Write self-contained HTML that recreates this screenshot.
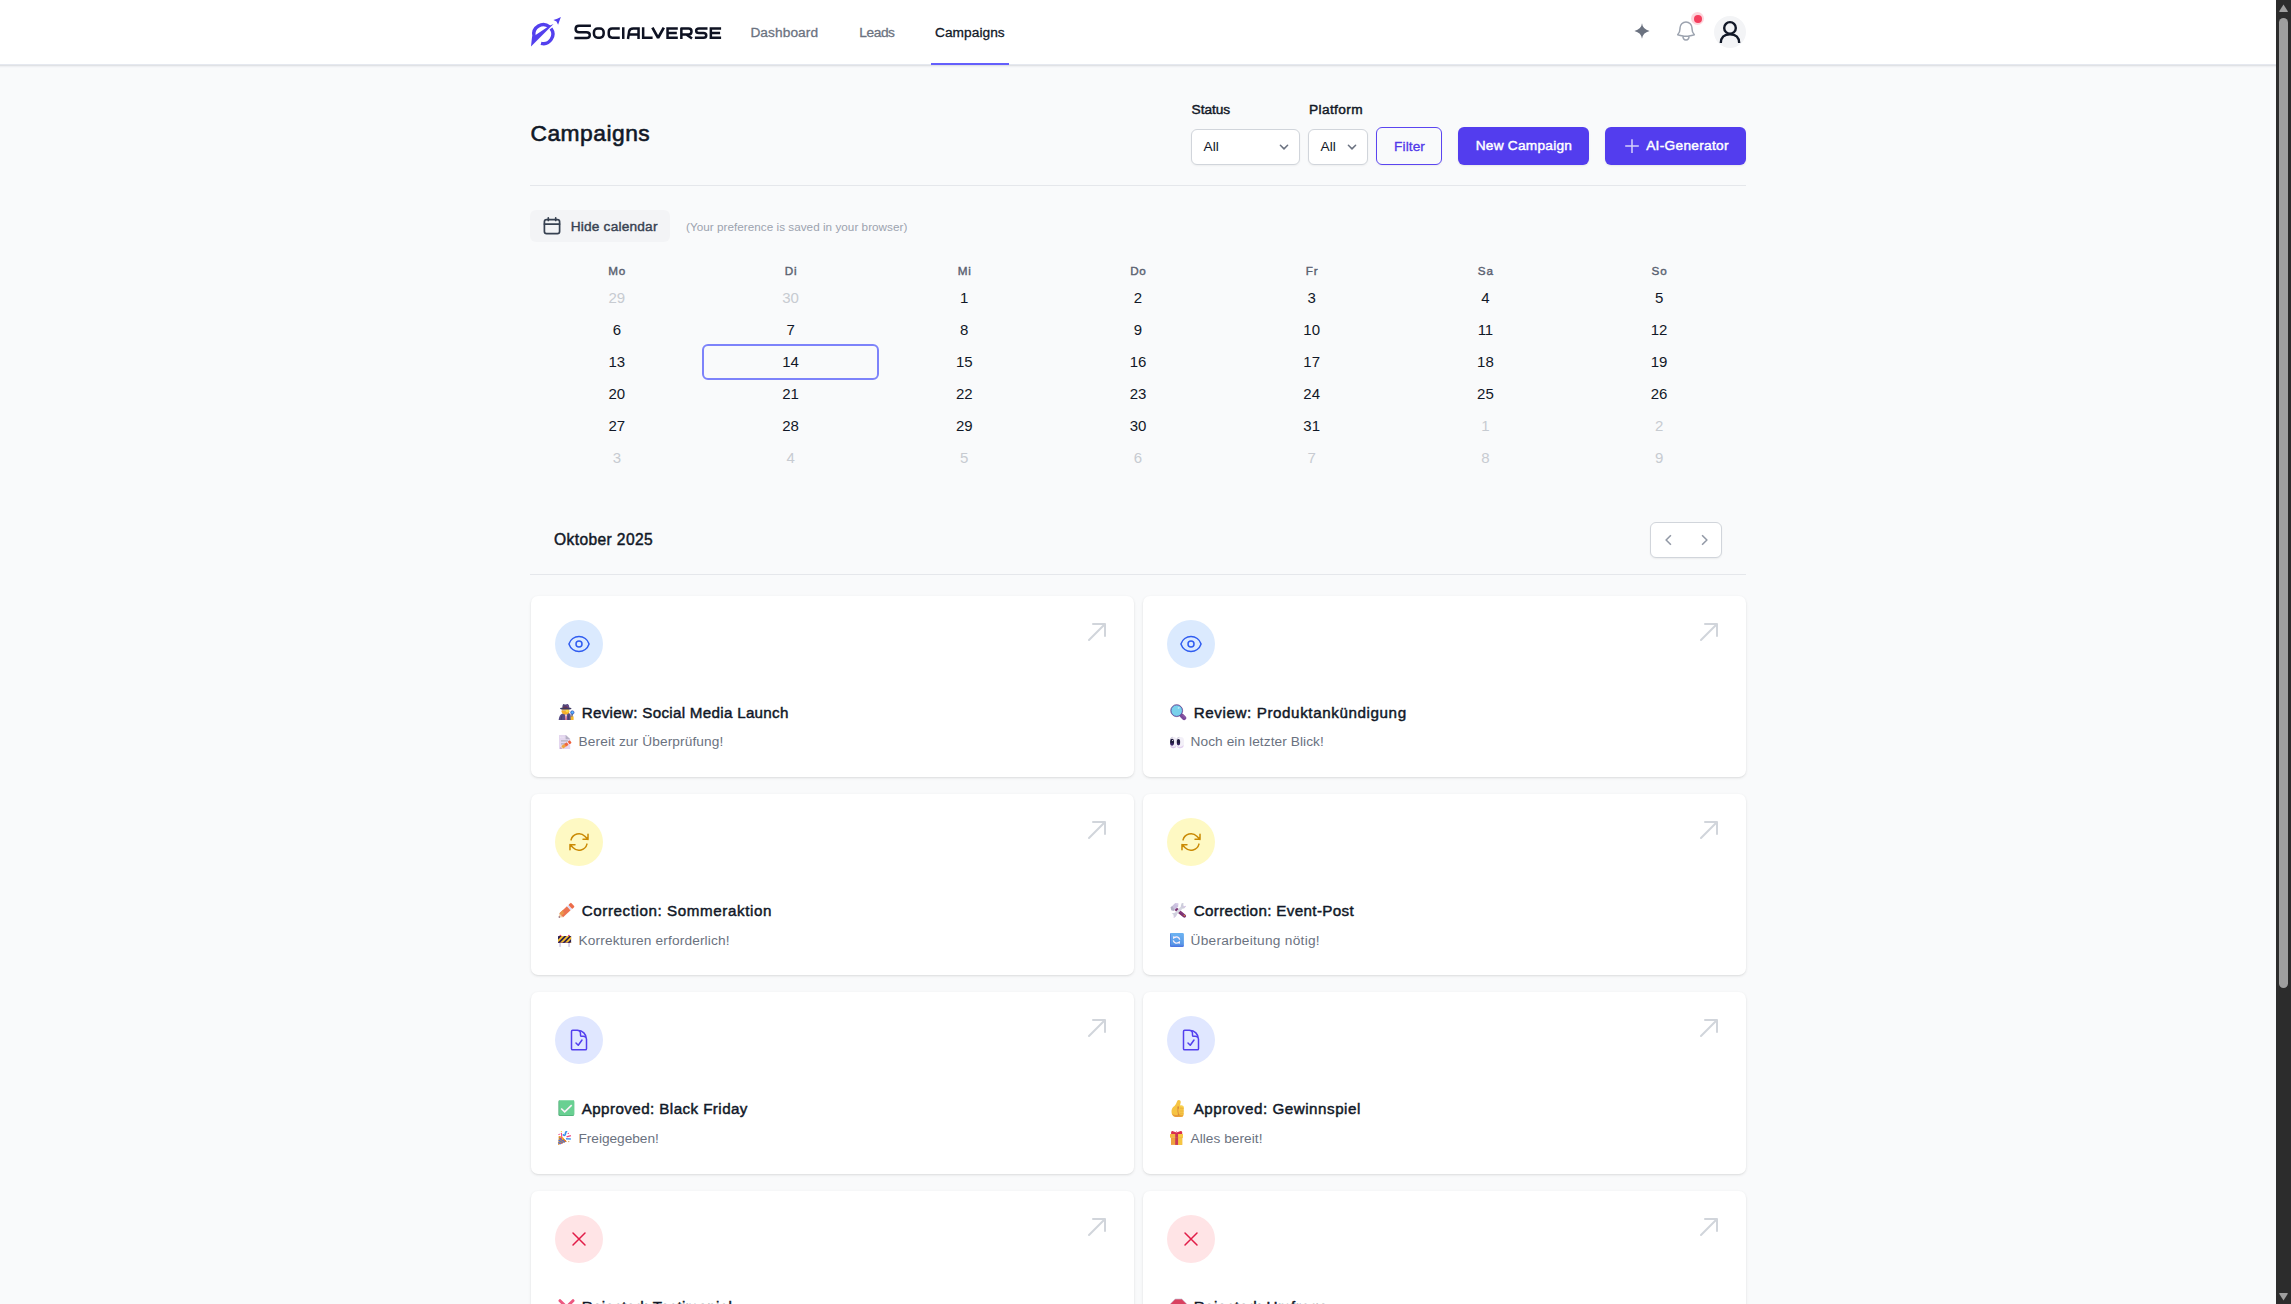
<!DOCTYPE html>
<html lang="en">
<head>
<meta charset="utf-8">
<title>Campaigns</title>
<style>
*{box-sizing:border-box;margin:0;padding:0}
html,body{width:2291px;height:1304px;overflow:hidden;background:#f9fafb;font-family:"Liberation Sans",sans-serif;color:#111827}
body{position:relative}
.abs{position:absolute}
.t{position:absolute;white-space:nowrap;line-height:1}
.sb{-webkit-text-stroke:.45px currentColor}
.md{-webkit-text-stroke:.3px currentColor}
#hdr{position:absolute;left:0;top:0;width:2276px;height:64px;background:#fff}
#hsh{position:absolute;left:0;top:64px;width:2276px;height:4px;background:linear-gradient(#e5e8ef 0,#e5e8ef 25%,#e0e2e5 25%,#e0e2e5 50%,#eff0f3 50%,#eff0f3 75%,#f6f7f9 75%)}
#sb{position:absolute;left:2276px;top:0;width:15px;height:1304px;background:#2c2c2c}
#sbt{position:absolute;left:3px;top:17.6px;width:9px;height:970.6px;border-radius:5px;background:#9f9f9f}
.hr{position:absolute;left:530px;width:1216px;height:1px;background:#e5e7eb}
.sel{position:absolute;top:129px;height:36px;background:#fff;border:1px solid #d1d5db;border-radius:6px;box-shadow:0 1px 2px rgba(0,0,0,.05)}
.btn{position:absolute;top:127px;height:38px;border-radius:6px;background:#533dee;box-shadow:0 1px 2px rgba(0,0,0,.08)}
.card{position:absolute;width:603px;height:181.3px;background:#fff;border-radius:7px;box-shadow:0 1px 3px rgba(0,0,0,.1),0 1px 2px -1px rgba(0,0,0,.1)}
.card .ic{position:absolute;left:24.5px;top:24px;width:48px;height:48px;border-radius:50%}
.card .ic svg{position:absolute;left:12px;top:12px;width:24px;height:24px}
.card .ar{position:absolute;left:554px;top:24px;width:24px;height:24px;color:#d1d5db}
.card .ti{position:absolute;left:51.2px;top:108.9px;font-size:15.2px;line-height:15.2px;white-space:nowrap;color:#111827;-webkit-text-stroke:.45px #111827}
.card .su{position:absolute;left:48px;top:139.4px;font-size:13.7px;line-height:13.7px;white-space:nowrap;color:#6b7280}
.card .e1{position:absolute;left:27px;top:107px;width:18px;height:18px}
.card .e2{position:absolute;left:27.5px;top:139px;width:14px;height:14px}
.cal{position:absolute;font-size:15px;line-height:15px;width:60px;text-align:center;color:#111827}
.cal.o{color:#c7cbd1}
.dh{position:absolute;font-size:11.7px;line-height:12px;width:60px;text-align:center;color:#596170;-webkit-text-stroke:.4px #596170;letter-spacing:.8px;padding-left:.8px}
</style>
</head>
<body>
<div id="hdr"></div><div id="hsh"></div>
<div id="sb"><div id="sbt"></div>
<svg class="abs" style="left:3px;top:4px" width="9" height="8" viewBox="0 0 9 8"><path d="M4.5 .6 L8.8 7.2 Q9 8 8 8 L1 8 Q0 8 .2 7.2 Z" fill="#9f9f9f"/></svg>
<svg class="abs" style="left:3px;top:1293px" width="9" height="8" viewBox="0 0 9 8"><path d="M4.5 7.4 L8.8 .8 Q9 0 8 0 L1 0 Q0 0 .2 .8 Z" fill="#9f9f9f"/></svg>
</div>
<!-- logo icon -->
<svg class="abs" style="left:526px;top:12px" width="40" height="40" viewBox="0 0 40 40">
 <g fill="none" stroke="#5340ee" stroke-width="3.4">
  <path d="M25.0 16.5 A9.5 9.5 0 0 1 15.0 31.3"/>
  <path d="M23.4 14.8 A9.5 9.5 0 0 0 8.0 24.0"/>
 </g>
 <path d="M5.0 34.4 L27.5 11.9 L23.4 13.7 L9.6 23.0 L6.1 24.3 Z" fill="#5340ee"/>
 <path d="M34.9 4.9 Q33.4 8.8 32.1 12.7 L30.5 9.6 L27.4 8.0 Q31.3 6.7 34.9 4.9 Z" fill="#5340ee"/>
</svg>
<!-- wordmark -->
<svg class="abs" style="left:570px;top:18px" width="156" height="28" viewBox="0 0 156 28">
 <g fill="none" stroke="#0e1222" stroke-width="2.5" stroke-linejoin="round">
  <path stroke-width="2.4" d="M20.9 7.8 H9 Q5.6 7.8 5.6 11.05 Q5.6 14.3 9 14.3 H16.4 Q19.8 14.3 19.8 17.15 Q19.8 20 16.4 20 H4.4"/>
  <rect x="23.95" y="10.5" width="9.7" height="9.2" rx="3.6"/>
  <path d="M49.75 10.5 H42.2 Q38.75 10.5 38.75 13.9 V16.3 Q38.75 19.7 42.2 19.7 H49.75"/>
  <path d="M53.25 9.25 V20.95"/>
  <path d="M58.0 20.95 L59.1 13.6 Q59.7 10.5 63.2 10.5 H68.55 M68.55 9.25 V20.95 M59 16.4 H68.55"/>
  <path d="M73.15 9.25 V19.7 H82.6" stroke-linejoin="miter"/>
  <path d="M82.4 9.6 L88.1 19.9 L93.8 9.6" stroke-linejoin="bevel" stroke-width="2.7"/>
  <path d="M107.8 10.5 H97.55 V19.7 H107.8 M97.55 15.1 H106.8" stroke-linejoin="miter"/>
  <path d="M111.35 20.95 V10.5 H118.6 Q121.5 10.5 121.5 13.45 Q121.5 16.4 118.6 16.4 H111.35 M116.4 16.4 L122 20.6"/>
  <path d="M137.5 10.5 H129 Q126.15 10.5 126.15 12.8 Q126.15 15.1 129 15.1 H133.4 Q136.25 15.1 136.25 17.4 Q136.25 19.7 133.4 19.7 H124.9"/>
  <path d="M151.1 10.5 H140.85 V19.7 H151.1 M140.85 15.1 H150.1" stroke-linejoin="miter"/>
 </g>
</svg>
<!-- nav -->
<div class="t md" style="left:750.4px;top:26.3px;font-size:13.7px;color:#6b7280;letter-spacing:0.092px">Dashboard</div>
<div class="t md" style="left:859.2px;top:26.3px;font-size:13.7px;color:#6b7280;letter-spacing:-0.379px">Leads</div>
<div class="t md" style="left:935px;top:26.3px;font-size:13.7px;color:#111827;letter-spacing:0.052px">Campaigns</div>
<div class="abs" style="left:931px;top:63px;width:78px;height:2px;background:#645ffc"></div>
<!-- right icons -->
<svg class="abs" style="left:1632px;top:21px" width="20" height="20" viewBox="0 0 20 20"><path d="M10 2.2 Q10.6 8.2 17.6 9.9 Q10.6 11.6 10 17.8 Q9.4 11.6 2.4 9.9 Q9.4 8.2 10 2.2Z" fill="#6b7280"/></svg>
<svg class="abs" style="left:1674px;top:19px" width="24" height="24" viewBox="0 0 24 24" fill="none" stroke="#9ca3af" stroke-width="1.5" stroke-linecap="round" stroke-linejoin="round"><path d="M14.857 17.082a23.848 23.848 0 005.454-1.31A8.967 8.967 0 0118 9.75v-.7V9A6 6 0 006 9v.75a8.967 8.967 0 01-2.312 6.022c1.733.64 3.56 1.085 5.455 1.31m5.714 0a24.255 24.255 0 01-5.714 0m5.714 0a3 3 0 11-5.714 0"/></svg>
<div class="abs" style="left:1691.3px;top:12.3px;width:13px;height:13px;border-radius:50%;background:#fdd5dc"></div>
<div class="abs" style="left:1694px;top:15px;width:8px;height:8px;border-radius:50%;background:#f43f5e"></div>
<div class="abs" style="left:1714px;top:16px;width:32px;height:32px;border-radius:50%;background:#f3f4f6"></div>
<svg class="abs" style="left:1714px;top:16px" width="32" height="32" viewBox="0 0 32 32" fill="none" stroke="#111827" stroke-width="2.4"><circle cx="16" cy="11.9" r="5.8"/><path d="M6.8 27 Q7 18.4 16 18.4 Q25 18.4 25.2 27"/></svg>
<!-- title + toolbar -->
<div class="t sb" style="left:530.5px;top:121.6px;font-size:22.8px;color:#111827;letter-spacing:.49px;-webkit-text-stroke:.6px #111827">Campaigns</div>
<div class="t sb" style="left:1191.6px;top:102.8px;font-size:13.7px;color:#111827;letter-spacing:-0.052px">Status</div>
<div class="t sb" style="left:1309px;top:102.8px;font-size:13.7px;color:#111827;letter-spacing:0.379px">Platform</div>
<div class="sel" style="left:1191px;width:108.5px"></div>
<div class="t" style="left:1203.5px;top:140.2px;font-size:13.7px;color:#111827;letter-spacing:0.06px">All</div>
<svg class="abs" style="left:1276px;top:139px" width="16" height="16" viewBox="0 0 16 16" fill="none" stroke="#6b7280" stroke-width="1.5" stroke-linecap="round" stroke-linejoin="round"><path d="M4.4 6.3 L8 9.9 L11.6 6.3"/></svg>
<div class="sel" style="left:1308px;width:59.5px"></div>
<div class="t" style="left:1320.5px;top:140.2px;font-size:13.7px;color:#111827;letter-spacing:0.06px">All</div>
<svg class="abs" style="left:1344px;top:139px" width="16" height="16" viewBox="0 0 16 16" fill="none" stroke="#6b7280" stroke-width="1.5" stroke-linecap="round" stroke-linejoin="round"><path d="M4.4 6.3 L8 9.9 L11.6 6.3"/></svg>
<div class="abs" style="left:1376px;top:127px;width:66px;height:38px;border:1.3px solid #5b45f0;border-radius:6px;box-shadow:0 1px 2px rgba(0,0,0,.06)"></div>
<div class="t md" style="left:1394.1px;top:139.6px;font-size:13.7px;color:#5138ea;letter-spacing:0.08px">Filter</div>
<div class="btn" style="left:1458px;width:131px"></div>
<div class="t sb" style="left:1475.7px;top:139.3px;font-size:13.7px;color:#fff;letter-spacing:0.243px">New Campaign</div>
<div class="btn" style="left:1605px;width:141px"></div>
<svg class="abs" style="left:1622px;top:136px" width="20" height="20" viewBox="0 0 20 20" fill="none" stroke="#d6d1fb" stroke-width="1.5"><path d="M10 3.3 V16.9 M3.2 10.1 H16.8"/></svg>
<div class="t sb" style="left:1646.2px;top:139.3px;font-size:13.7px;color:#fff;letter-spacing:0.29px">AI-Generator</div>
<div class="hr" style="top:185px"></div>
<!-- hide calendar -->
<div class="abs" style="left:530px;top:210px;width:140px;height:32px;border-radius:6px;background:#f3f4f6"></div>
<svg class="abs" style="left:542px;top:216px" width="20" height="20" viewBox="0 0 20 20" fill="none" stroke="#374151" stroke-width="1.7" stroke-linecap="round" stroke-linejoin="round"><rect x="2.4" y="3.6" width="15.2" height="14" rx="2.2"/><path d="M2.4 8.1 H17.6 M6.3 1.9 V4.4 M13.7 1.9 V4.4"/></svg>
<div class="t md" style="left:570.7px;top:219.7px;font-size:13.7px;color:#374151;letter-spacing:0.195px;-webkit-text-stroke:.4px #374151">Hide calendar</div>
<div class="t" style="left:686px;top:220.9px;font-size:11.7px;color:#9ca3af;letter-spacing:0.038px">(Your preference is saved in your browser)</div>
<div class="dh" style="left:586.86px;top:264.7px">Mo</div>
<div class="dh" style="left:760.57px;top:264.7px">Di</div>
<div class="dh" style="left:934.29px;top:264.7px">Mi</div>
<div class="dh" style="left:1108.00px;top:264.7px">Do</div>
<div class="dh" style="left:1281.71px;top:264.7px">Fr</div>
<div class="dh" style="left:1455.43px;top:264.7px">Sa</div>
<div class="dh" style="left:1629.14px;top:264.7px">So</div>
<div class="cal o" style="left:586.86px;top:290.3px">29</div>
<div class="cal o" style="left:760.57px;top:290.3px">30</div>
<div class="cal" style="left:934.29px;top:290.3px">1</div>
<div class="cal" style="left:1108.00px;top:290.3px">2</div>
<div class="cal" style="left:1281.71px;top:290.3px">3</div>
<div class="cal" style="left:1455.43px;top:290.3px">4</div>
<div class="cal" style="left:1629.14px;top:290.3px">5</div>
<div class="cal" style="left:586.86px;top:322.3px">6</div>
<div class="cal" style="left:760.57px;top:322.3px">7</div>
<div class="cal" style="left:934.29px;top:322.3px">8</div>
<div class="cal" style="left:1108.00px;top:322.3px">9</div>
<div class="cal" style="left:1281.71px;top:322.3px">10</div>
<div class="cal" style="left:1455.43px;top:322.3px">11</div>
<div class="cal" style="left:1629.14px;top:322.3px">12</div>
<div class="cal" style="left:586.86px;top:354.3px">13</div>
<div class="cal" style="left:760.57px;top:354.3px">14</div>
<div class="cal" style="left:934.29px;top:354.3px">15</div>
<div class="cal" style="left:1108.00px;top:354.3px">16</div>
<div class="cal" style="left:1281.71px;top:354.3px">17</div>
<div class="cal" style="left:1455.43px;top:354.3px">18</div>
<div class="cal" style="left:1629.14px;top:354.3px">19</div>
<div class="cal" style="left:586.86px;top:386.3px">20</div>
<div class="cal" style="left:760.57px;top:386.3px">21</div>
<div class="cal" style="left:934.29px;top:386.3px">22</div>
<div class="cal" style="left:1108.00px;top:386.3px">23</div>
<div class="cal" style="left:1281.71px;top:386.3px">24</div>
<div class="cal" style="left:1455.43px;top:386.3px">25</div>
<div class="cal" style="left:1629.14px;top:386.3px">26</div>
<div class="cal" style="left:586.86px;top:418.3px">27</div>
<div class="cal" style="left:760.57px;top:418.3px">28</div>
<div class="cal" style="left:934.29px;top:418.3px">29</div>
<div class="cal" style="left:1108.00px;top:418.3px">30</div>
<div class="cal" style="left:1281.71px;top:418.3px">31</div>
<div class="cal o" style="left:1455.43px;top:418.3px">1</div>
<div class="cal o" style="left:1629.14px;top:418.3px">2</div>
<div class="cal o" style="left:586.86px;top:450.3px">3</div>
<div class="cal o" style="left:760.57px;top:450.3px">4</div>
<div class="cal o" style="left:934.29px;top:450.3px">5</div>
<div class="cal o" style="left:1108.00px;top:450.3px">6</div>
<div class="cal o" style="left:1281.71px;top:450.3px">7</div>
<div class="cal o" style="left:1455.43px;top:450.3px">8</div>
<div class="cal o" style="left:1629.14px;top:450.3px">9</div>
<div class="abs" style="left:702px;top:344px;width:177px;height:36px;border:2px solid #7d83fa;border-radius:6px"></div>
<div class="t sb" style="left:554px;top:531.9px;font-size:15.6px;color:#111827;letter-spacing:.38px">Oktober 2025</div>
<div class="abs" style="left:1650px;top:522px;width:72px;height:36px;background:#fff;border:1px solid #d1d5db;border-radius:6px;box-shadow:0 1px 2px rgba(0,0,0,.06)"></div>
<svg class="abs" style="left:1658px;top:530px" width="20" height="20" viewBox="0 0 20 20" fill="none" stroke="#9299a6" stroke-width="1.6" stroke-linejoin="round"><path d="M12.9 5.3 L8.1 10 L12.9 14.7"/></svg>
<svg class="abs" style="left:1695px;top:530px" width="20" height="20" viewBox="0 0 20 20" fill="none" stroke="#9299a6" stroke-width="1.6" stroke-linejoin="round"><path d="M7.1 5.3 L11.9 10 L7.1 14.7"/></svg>
<div class="hr" style="top:574px"></div>
<div class="card" style="left:530.5px;top:596.0px"><div class="ic" style="background:#dbeafe"><svg viewBox="0 0 24 24" fill="none" stroke="#2f5cf0" stroke-width="1.5" stroke-linecap="round" stroke-linejoin="round"><path d="M2.036 12.322a1.012 1.012 0 010-.639C3.423 7.51 7.36 4.5 12 4.5c4.638 0 8.573 3.007 9.963 7.178.07.207.07.431 0 .639C20.577 16.49 16.64 19.5 12 19.5c-4.638 0-8.573-3.007-9.963-7.178z"/><path d="M15 12a3 3 0 11-6 0 3 3 0 016 0z"/></svg></div><svg class="ar" viewBox="0 0 24 24" fill="currentColor"><path d="M20 4h1a1 1 0 00-1-1v1zm-1 12a1 1 0 102 0h-2zM8 3a1 1 0 000 2V3zM3.293 19.293a1 1 0 101.414 1.414l-1.414-1.414zM19 4v12h2V4h-2zm1-1H8v2h12V3zm-.707.293l-16 16 1.414 1.414 16-16-1.414-1.414z"/></svg><svg class="e1" viewBox="0 0 18 18"><path d="M.6 16.9Q1.4 11.6 4 10.7L6 10.1H10.6L12.4 10.9Q13 12.4 13 16.9Z" fill="#564b85"/>
<path d="M3.2 16.9L3.8 12.8M10.6 16.9L10.4 12.6" stroke="#433c68" stroke-width=".8" fill="none"/>
<path d="M6.9 11.2H9.1L8.7 16.9H7.3Z" fill="#e9e6f1"/><path d="M7.65 12.4H8.35L8.5 16.9H7.5Z" fill="#d61f45"/>
<ellipse cx="7.5" cy="8.3" rx="3.9" ry="3.1" fill="#f6ae2a"/><path d="M4.4 7.2H10.6" stroke="#c9c4d2" stroke-width=".7"/><ellipse cx="9.2" cy="8" rx="1.6" ry="1.4" fill="#fddc45"/>
<path d="M4.3 5Q4.4 1.2 5.8 1.1Q7.4 2.1 9.2 1.1Q11 1.1 11.4 5Z" fill="#4f4678"/><path d="M8.4 1.6Q10.6 1.4 11.2 5H9Z" fill="#6a4a8e"/>
<rect x="5.2" y="3.7" width="4.4" height="1.1" fill="#7c3040"/>
<path d="M2 5.6Q2 4.6 3.6 4.7H12Q13.6 4.7 13.5 5.6Q13.4 6.4 12 6.4H3.6Q2 6.4 2 5.6Z" fill="#3e3a63"/>
<rect x="12.7" y="13.2" width="2.9" height="3.7" rx=".5" fill="#f6b92c"/>
<path d="M14.2 10.8L13.9 13.6" stroke="#29243f" stroke-width="1"/><circle cx="14.3" cy="9.5" r="1.75" fill="#3f9ffb" stroke="#3c4aa5" stroke-width=".6"/><circle cx="14.5" cy="9.2" r=".7" fill="#6fc0ff"/></svg><div class="ti" style="letter-spacing:0.288px">Review: Social Media Launch</div><svg class="e2" viewBox="0 0 14 14"><path d="M1 0H8L12.2 3.8V14H1Z" fill="#e4d7ef"/><path d="M7.6 0L12.2 4.2H7.6Z" fill="#b4b0c3"/>
<path d="M2 2.3H7" stroke="#f3eef8" stroke-width=".8" stroke-dasharray=".8 .9"/>
<rect x="3" y="5.1" width="6.9" height="1.5" fill="#bbb7c4"/><rect x="3" y="8.1" width="6.9" height="1.5" fill="#bbb7c4"/>
<g transform="translate(2.4,13.5) rotate(-34)"><path d="M0 0L2.2-1.5V1.5Z" fill="#f3d9c0"/><path d="M0 0L1-.7V.7Z" fill="#8b2a6b"/>
<rect x="2.2" y="-1.55" width="3.4" height="3.1" fill="#efa33c"/><rect x="5.6" y="-1.55" width="3.4" height="3.1" fill="#f2683c"/>
<rect x="9" y="-1.55" width=".9" height="3.1" fill="#f3e4ee"/><rect x="9.9" y="-1.6" width="2.6" height="3.2" rx=".7" fill="#ef5f3a"/></g></svg><div class="su" style="letter-spacing:0.118px">Bereit zur Überprüfung!</div></div>
<div class="card" style="left:1142.5px;top:596.0px"><div class="ic" style="background:#dbeafe"><svg viewBox="0 0 24 24" fill="none" stroke="#2f5cf0" stroke-width="1.5" stroke-linecap="round" stroke-linejoin="round"><path d="M2.036 12.322a1.012 1.012 0 010-.639C3.423 7.51 7.36 4.5 12 4.5c4.638 0 8.573 3.007 9.963 7.178.07.207.07.431 0 .639C20.577 16.49 16.64 19.5 12 19.5c-4.638 0-8.573-3.007-9.963-7.178z"/><path d="M15 12a3 3 0 11-6 0 3 3 0 016 0z"/></svg></div><svg class="ar" viewBox="0 0 24 24" fill="currentColor"><path d="M20 4h1a1 1 0 00-1-1v1zm-1 12a1 1 0 102 0h-2zM8 3a1 1 0 000 2V3zM3.293 19.293a1 1 0 101.414 1.414l-1.414-1.414zM19 4v12h2V4h-2zm1-1H8v2h12V3zm-.707.293l-16 16 1.414 1.414 16-16-1.414-1.414z"/></svg><svg class="e1" viewBox="0 0 18 18"><path d="M11.9 12.8L14.1 15" stroke="#7b4a9a" stroke-width="4.3" stroke-linecap="round"/><path d="M12.9 12.4L15 14.5" stroke="#8d5aa6" stroke-width="1.3" stroke-linecap="round"/>
<circle cx="6.7" cy="7.65" r="5.75" fill="#79d1eb" stroke="#4a4ca6" stroke-width=".9"/><circle cx="6.7" cy="7.65" r="6.1" fill="none" stroke="#8a3a72" stroke-width=".3"/>
<ellipse cx="8.7" cy="4.9" rx="1.1" ry=".8" fill="#c4e9fb" transform="rotate(-30 8.7 4.9)"/></svg><div class="ti" style="letter-spacing:0.593px">Review: Produktankündigung</div><svg class="e2" viewBox="0 0 14 14"><rect x="0" y="2" width="6.3" height="11.2" rx="2.7" fill="#efebf5"/><rect x="6.3" y="2" width="7.6" height="11.2" rx="3.3" fill="#f3f0f8"/>
<path d="M.4 10Q3 13.8 6.2 10.8V11Q5.8 13.2 3.2 13.2Q.8 13.2 .4 10Z" fill="#dcc6ea"/><path d="M6.8 10.4Q10 13.6 13.6 10Q13.2 13.2 10 13.2Q7.2 13.2 6.8 10.4Z" fill="#e2cfee"/>
<path d="M.3 5Q.3 2.3 2.8 2.2" stroke="#b9b6c6" stroke-width=".6" fill="none"/><path d="M6.6 5.4Q6.6 2.4 9.4 2.2" stroke="#b9b6c6" stroke-width=".6" fill="none"/>
<ellipse cx="2.05" cy="7.1" rx="2" ry="3.4" fill="#201c3e"/><ellipse cx="8.45" cy="7.1" rx="1.7" ry="3.2" fill="#201c3e"/>
<ellipse cx="2" cy="9.2" rx="1.4" ry="1.2" fill="#4a2a80" opacity=".6"/><ellipse cx="8.4" cy="9.2" rx="1.2" ry="1.1" fill="#4a2a80" opacity=".6"/>
<circle cx="2.6" cy="5.5" r=".6" fill="#fff"/></svg><div class="su" style="letter-spacing:0.078px">Noch ein letzter Blick!</div></div>
<div class="card" style="left:530.5px;top:794.2px"><div class="ic" style="background:#fef9c3"><svg viewBox="0 0 24 24" fill="none" stroke="#ca8a04" stroke-width="1.5" stroke-linecap="round" stroke-linejoin="round"><path d="M16.023 9.348h4.992v-.001M2.985 19.644v-4.992m0 0h4.992m-4.993 0l3.181 3.183a8.25 8.25 0 0013.803-3.7M4.031 9.865a8.25 8.25 0 0113.803-3.7l3.181 3.182m0-4.991v4.99"/></svg></div><svg class="ar" viewBox="0 0 24 24" fill="currentColor"><path d="M20 4h1a1 1 0 00-1-1v1zm-1 12a1 1 0 102 0h-2zM8 3a1 1 0 000 2V3zM3.293 19.293a1 1 0 101.414 1.414l-1.414-1.414zM19 4v12h2V4h-2zm1-1H8v2h12V3zm-.707.293l-16 16 1.414 1.414 16-16-1.414-1.414z"/></svg><svg class="e1" viewBox="0 0 18 18"><g transform="translate(.7,16.6) rotate(-42.7)"><path d="M0 0L3.5-2.7V2.7Z" fill="#f2cda6"/><path d="M0 0L1.2-.95V.95Z" fill="#4a1a4a"/>
<rect x="3.5" y="-2.7" width="10.2" height="5.4" fill="#ec7350"/><path d="M3.5-2.7H8.2L6.8-.2L7.8.6H3.5Z" fill="#e9974a"/>
<rect x="13.7" y="-2.7" width="2" height="5.4" fill="#dddbf7"/><rect x="15.7" y="-2.8" width="3.5" height="5.6" rx=".9" fill="#ec6c4a"/></g></svg><div class="ti" style="letter-spacing:0.578px">Correction: Sommeraktion</div><svg class="e2" viewBox="0 0 14 14"><rect x="1.2" y="9.8" width="1.8" height="4.1" fill="#d6d0e6"/><rect x="10.1" y="9.8" width="1.9" height="4.1" fill="#d6d0e6"/>
<circle cx="2.4" cy="2.6" r=".95" fill="#f0407a"/><circle cx="10.9" cy="2.6" r=".95" fill="#f0407a"/>
<rect x="0" y="2.9" width="13.1" height="7.1" rx=".5" fill="#2b2152"/>
<path d="M0 6.7L3.7 2.9H6.2L0 9.2ZM1.8 10L8.7 2.9H11.2L4.3 10ZM6.8 10L13.1 3.6V6.1L9.3 10ZM11.8 10L13.1 8.7V10Z" fill="#fbc12e"/>
<rect x="0" y="9.4" width="13.1" height=".6" fill="#5b2d82" opacity=".7"/></svg><div class="su" style="letter-spacing:0.144px">Korrekturen erforderlich!</div></div>
<div class="card" style="left:1142.5px;top:794.2px"><div class="ic" style="background:#fef9c3"><svg viewBox="0 0 24 24" fill="none" stroke="#ca8a04" stroke-width="1.5" stroke-linecap="round" stroke-linejoin="round"><path d="M16.023 9.348h4.992v-.001M2.985 19.644v-4.992m0 0h4.992m-4.993 0l3.181 3.183a8.25 8.25 0 0013.803-3.7M4.031 9.865a8.25 8.25 0 0113.803-3.7l3.181 3.182m0-4.991v4.99"/></svg></div><svg class="ar" viewBox="0 0 24 24" fill="currentColor"><path d="M20 4h1a1 1 0 00-1-1v1zm-1 12a1 1 0 102 0h-2zM8 3a1 1 0 000 2V3zM3.293 19.293a1 1 0 101.414 1.414l-1.414-1.414zM19 4v12h2V4h-2zm1-1H8v2h12V3zm-.707.293l-16 16 1.414 1.414 16-16-1.414-1.414z"/></svg><svg class="e1" viewBox="0 0 18 18"><path d="M6.6 8.6L14.4 15" stroke="#7b2e70" stroke-width="3.4" stroke-linecap="round"/><path d="M9.4 10.4L14 14.2" stroke="#8d4484" stroke-width=".8"/>
<circle cx="14.3" cy="14.4" r=".75" fill="#e08530"/>
<path d="M.6 6.6L5.3 1.9L8.3 2.4L8.2 5.8L3.9 9.7L1.4 9.3Z" fill="#cbc1df"/><path d="M.6 6.6L2.2 5L4.6 9L3.9 9.7L1.4 9.3Z" fill="#b3b1c4"/><path d="M5.3 1.9L8.3 2.4L8.2 4L5.6 3.2Z" fill="#d9cde9"/>
<path d="M4.9 13.6L13 5.2" stroke="#d6d6e1" stroke-width="2.7"/>
<path d="M11.8 2L10.9 4.4Q10.6 6 11.8 7Q13 7.8 14.4 7.2L16.2 5L14.2 5.2L13.2 4.2L13.6 2.2Z" fill="#cdcddb"/>
<path d="M13 5.6Q14.6 6.6 16 5.1" stroke="#dcc6ea" stroke-width=".9" fill="none"/>
<path d="M4.4 16.7L6.6 14.6Q7.4 13.2 6.3 12.2Q5.2 11.3 3.8 11.9L1.6 12.6L3.4 13.6L3.6 15Z" fill="#cfcfdd"/>
<path d="M3.4 16.2Q4.8 16.4 5.8 15.2" stroke="#dcc6ea" stroke-width=".9" fill="none"/></svg><div class="ti" style="letter-spacing:0.346px">Correction: Event-Post</div><svg class="e2" viewBox="0 0 14 14"><defs><linearGradient id="rg" x1="0" y1="0" x2="0" y2="1"><stop offset="0" stop-color="#6cb3f2"/><stop offset=".8" stop-color="#5a98e6"/><stop offset="1" stop-color="#4a6fe0"/></linearGradient></defs>
<rect x="0" y="0" width="13.9" height="14" rx="1.3" fill="url(#rg)"/><rect x="0" y=".5" width=".9" height="13" fill="#4a78e0" opacity=".7"/>
<g fill="none" stroke="#fdf0fa" stroke-width="1.35"><path d="M9.7 6.6A3.25 3.25 0 0 0 4.6 4.5"/><path d="M3.3 7.4A3.25 3.25 0 0 0 8.4 9.5"/></g>
<path d="M2.9 3.3L5.9 4L3.3 6.3Z" fill="#fdf0fa"/><path d="M10.1 10.7L7.1 10L9.7 7.7Z" fill="#fdf0fa"/></svg><div class="su" style="letter-spacing:0.268px">Überarbeitung nötig!</div></div>
<div class="card" style="left:530.5px;top:992.3px"><div class="ic" style="background:#e0e7ff"><svg viewBox="0 0 24 24" fill="none" stroke="#5340ee" stroke-width="1.5" stroke-linecap="round" stroke-linejoin="round"><path d="M10.125 2.25h-4.5c-.621 0-1.125.504-1.125 1.125v17.25c0 .621.504 1.125 1.125 1.125h12.75c.621 0 1.125-.504 1.125-1.125v-9M10.125 2.25h.375a9 9 0 019 9v.375M10.125 2.25A3.375 3.375 0 0113.5 5.625v1.5c0 .621.504 1.125 1.125 1.125h1.5a3.375 3.375 0 013.375 3.375M9 15l2.25 2.25L15 12"/></svg></div><svg class="ar" viewBox="0 0 24 24" fill="currentColor"><path d="M20 4h1a1 1 0 00-1-1v1zm-1 12a1 1 0 102 0h-2zM8 3a1 1 0 000 2V3zM3.293 19.293a1 1 0 101.414 1.414l-1.414-1.414zM19 4v12h2V4h-2zm1-1H8v2h12V3zm-.707.293l-16 16 1.414 1.414 16-16-1.414-1.414z"/></svg><svg class="e1" viewBox="0 0 18 18"><rect x=".4" y="1" width="15.8" height="16.1" rx="1.7" fill="#4dab76"/><rect x="1.2" y="1" width="15" height="15.3" rx="1.5" fill="#69d092"/>
<rect x="1.2" y="1" width="15" height=".9" rx=".4" fill="#8edcad"/>
<path d="M3.2 9.5L6.7 12.9L13.7 6.1" stroke="#fdf2fb" stroke-width="1.6" fill="none" stroke-linejoin="miter"/></svg><div class="ti" style="letter-spacing:0.417px">Approved: Black Friday</div><svg class="e2" viewBox="0 0 14 14"><path d="M0 13.9L.9 5Q5.6 6.4 8.7 10.6Z" fill="#e8902a"/><path d="M.9 5Q5.6 6.4 8.7 10.6Q7.4 11.4 6.6 10.6Q3 6.8 .7 6.8Z" fill="#d9801e"/>
<path d="M.6 9L5 12.1M.3 11.4L2.8 13.1M1.6 7.2L7 11.2" stroke="#3f6fe2" stroke-width="1.15" fill="none"/>
<circle cx="3.7" cy="12.3" r=".6" fill="#f0603a"/><circle cx="6.7" cy="9.7" r=".6" fill="#f0603a"/>
<path d="M3.3 1.8Q4 5 3.6 8.2" stroke="#f04a8a" stroke-width="1.15" fill="none"/><path d="M4.6 6Q5 7.4 4.5 8.6" stroke="#f2c12a" stroke-width="1.1" fill="none"/>
<path d="M5.4 3.8Q6.9 5 7.3 3.2Q7.6 1.4 8.5 .3" stroke="#3a8fe6" stroke-width="1.7" fill="none" stroke-linecap="round"/>
<path d="M8.6 5.9L12.9 4.6" stroke="#ee4a80" stroke-width="1.4"/><path d="M8 7.8L12.9 8" stroke="#4a9af2" stroke-width="1.5"/>
<circle cx="3.4" cy=".5" r=".65" fill="#f7d840"/><circle cx="10.3" cy="2.4" r=".65" fill="#e8407a"/><path d="M.3 3.6L2 3.2" stroke="#f06aa0" stroke-width="1"/>
<circle cx="10.8" cy="10.6" r=".6" fill="#d8902a"/><path d="M1.6 5.2L3.2 5.6V7L1.4 6.6Z" fill="#f2b32a"/></svg><div class="su" style="letter-spacing:-0.031px">Freigegeben!</div></div>
<div class="card" style="left:1142.5px;top:992.3px"><div class="ic" style="background:#e0e7ff"><svg viewBox="0 0 24 24" fill="none" stroke="#5340ee" stroke-width="1.5" stroke-linecap="round" stroke-linejoin="round"><path d="M10.125 2.25h-4.5c-.621 0-1.125.504-1.125 1.125v17.25c0 .621.504 1.125 1.125 1.125h12.75c.621 0 1.125-.504 1.125-1.125v-9M10.125 2.25h.375a9 9 0 019 9v.375M10.125 2.25A3.375 3.375 0 0113.5 5.625v1.5c0 .621.504 1.125 1.125 1.125h1.5a3.375 3.375 0 013.375 3.375M9 15l2.25 2.25L15 12"/></svg></div><svg class="ar" viewBox="0 0 24 24" fill="currentColor"><path d="M20 4h1a1 1 0 00-1-1v1zm-1 12a1 1 0 102 0h-2zM8 3a1 1 0 000 2V3zM3.293 19.293a1 1 0 101.414 1.414l-1.414-1.414zM19 4v12h2V4h-2zm1-1H8v2h12V3zm-.707.293l-16 16 1.414 1.414 16-16-1.414-1.414z"/></svg><svg class="e1" viewBox="0 0 18 18"><g transform="translate(-.7 0)"><path d="M9.4 1Q11.7 1.1 11.4 3.6L10.7 6.5H12.9Q14.7 6.7 14.5 8.7L14.4 15.5Q14 18 11.5 18H6.4Q2.5 17.6 2.2 13Q2 8.8 5.2 7Q6.8 5.6 7.4 3.3Q7.9 1 9.4 1Z" fill="#f6c443"/>
<path d="M2.6 14.6Q5.6 17 8.8 15.6L9.6 18H6.4Q3.4 17.6 2.6 14.6Z" fill="#e79c3c"/><path d="M9.6 18L9.2 14.4Q11.6 17 14.3 15.8Q13.8 18 11.5 18Z" fill="#eaa43a"/>
<path d="M8.7 7.4Q8 12 9.5 17" stroke="#d98a3a" stroke-width=".9" fill="none"/><path d="M9 7.6Q9.3 9 8.8 9.6" stroke="#d98a3a" stroke-width="1.2" fill="none"/>
<path d="M10.6 9.4H14.4M10.6 12H14.4M10.8 14.6H14.3" stroke="#e8ae3a" stroke-width=".55"/><path d="M11 6.8Q13.6 7 14 8.6" stroke="#fbdc55" stroke-width="1" fill="none"/></g></svg><div class="ti" style="letter-spacing:0.524px">Approved: Gewinnspiel</div><svg class="e2" viewBox="0 0 14 14"><path d="M1.1 3V1.3Q1.4-.2 3.1.2L6.5 1.5L10 .2Q11.9-.2 12.2 1.3V3Z" fill="#d9304c"/><path d="M5.9.9L6.5.1L7.2.9L6.5 1.6Z" fill="#f0507a"/>
<rect x="0" y="2.9" width="13" height="3.9" rx=".5" fill="#f4b540"/><rect x="1" y="6.7" width="11.2" height="7.2" fill="#eda23e"/>
<rect x="8" y="2.9" width="5" height="3.9" rx=".5" fill="#f8c944"/><rect x="8" y="6.7" width="4.2" height="7.2" fill="#f6c642"/>
<rect x="5.2" y="2.9" width="2.85" height="11" fill="#c93757"/><rect x="1" y="6.6" width="11.2" height=".5" fill="#e3953a" opacity=".6"/></svg><div class="su" style="letter-spacing:0.037px">Alles bereit!</div></div>
<div class="card" style="left:530.5px;top:1190.5px"><div class="ic" style="background:#ffe4e6"><svg viewBox="0 0 24 24" fill="none" stroke="#e11d48" stroke-width="1.5" stroke-linecap="round" stroke-linejoin="round"><path d="M6 18L18 6M6 6l12 12"/></svg></div><svg class="ar" viewBox="0 0 24 24" fill="currentColor"><path d="M20 4h1a1 1 0 00-1-1v1zm-1 12a1 1 0 102 0h-2zM8 3a1 1 0 000 2V3zM3.293 19.293a1 1 0 101.414 1.414l-1.414-1.414zM19 4v12h2V4h-2zm1-1H8v2h12V3zm-.707.293l-16 16 1.414 1.414 16-16-1.414-1.414z"/></svg><svg class="e1" viewBox="0 0 18 18"><path d="M2 2.7L15 15.5M15 2.7L2 15.5" stroke="#ec5880" stroke-width="3" stroke-linecap="round"/></svg><div class="ti" style="letter-spacing:0.306px">Rejected: Testimonial</div><svg class="e2" viewBox="0 0 14 14"><path d="M1 0H8L12.2 3.8V14H1Z" fill="#e4d7ef"/><path d="M7.6 0L12.2 4.2H7.6Z" fill="#b4b0c3"/>
<path d="M2 2.3H7" stroke="#f3eef8" stroke-width=".8" stroke-dasharray=".8 .9"/>
<rect x="3" y="5.1" width="6.9" height="1.5" fill="#bbb7c4"/><rect x="3" y="8.1" width="6.9" height="1.5" fill="#bbb7c4"/>
<g transform="translate(2.4,13.5) rotate(-34)"><path d="M0 0L2.2-1.5V1.5Z" fill="#f3d9c0"/><path d="M0 0L1-.7V.7Z" fill="#8b2a6b"/>
<rect x="2.2" y="-1.55" width="3.4" height="3.1" fill="#efa33c"/><rect x="5.6" y="-1.55" width="3.4" height="3.1" fill="#f2683c"/>
<rect x="9" y="-1.55" width=".9" height="3.1" fill="#f3e4ee"/><rect x="9.9" y="-1.6" width="2.6" height="3.2" rx=".7" fill="#ef5f3a"/></g></svg><div class="su" style="letter-spacing:0px">Abgelehnt</div></div>
<div class="card" style="left:1142.5px;top:1190.5px"><div class="ic" style="background:#ffe4e6"><svg viewBox="0 0 24 24" fill="none" stroke="#e11d48" stroke-width="1.5" stroke-linecap="round" stroke-linejoin="round"><path d="M6 18L18 6M6 6l12 12"/></svg></div><svg class="ar" viewBox="0 0 24 24" fill="currentColor"><path d="M20 4h1a1 1 0 00-1-1v1zm-1 12a1 1 0 102 0h-2zM8 3a1 1 0 000 2V3zM3.293 19.293a1 1 0 101.414 1.414l-1.414-1.414zM19 4v12h2V4h-2zm1-1H8v2h12V3zm-.707.293l-16 16 1.414 1.414 16-16-1.414-1.414z"/></svg><svg class="e1" viewBox="0 0 18 18"><path d="M5.2 1H11.8L16.5 5.7V12.3L11.8 17H5.2L.5 12.3V5.7Z" fill="#d9405f" stroke="#c9c4d6" stroke-width=".7"/></svg><div class="ti" style="letter-spacing:0.451px">Rejected: Umfrage</div><svg class="e2" viewBox="0 0 14 14"><path d="M1 0H8L12.2 3.8V14H1Z" fill="#e4d7ef"/><path d="M7.6 0L12.2 4.2H7.6Z" fill="#b4b0c3"/>
<path d="M2 2.3H7" stroke="#f3eef8" stroke-width=".8" stroke-dasharray=".8 .9"/>
<rect x="3" y="5.1" width="6.9" height="1.5" fill="#bbb7c4"/><rect x="3" y="8.1" width="6.9" height="1.5" fill="#bbb7c4"/>
<g transform="translate(2.4,13.5) rotate(-34)"><path d="M0 0L2.2-1.5V1.5Z" fill="#f3d9c0"/><path d="M0 0L1-.7V.7Z" fill="#8b2a6b"/>
<rect x="2.2" y="-1.55" width="3.4" height="3.1" fill="#efa33c"/><rect x="5.6" y="-1.55" width="3.4" height="3.1" fill="#f2683c"/>
<rect x="9" y="-1.55" width=".9" height="3.1" fill="#f3e4ee"/><rect x="9.9" y="-1.6" width="2.6" height="3.2" rx=".7" fill="#ef5f3a"/></g></svg><div class="su" style="letter-spacing:0px">Abgelehnt</div></div>
</body>
</html>
